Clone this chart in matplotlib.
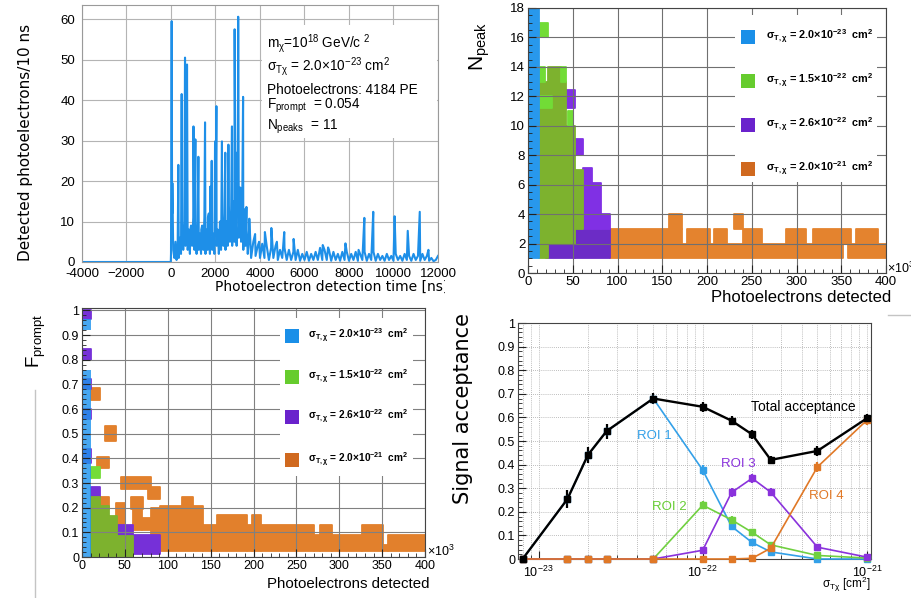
import numpy as np
import matplotlib
matplotlib.use("Agg")
import matplotlib.pyplot as plt
from matplotlib.patches import Rectangle
from matplotlib.lines import Line2D
from matplotlib.transforms import Bbox
from matplotlib.ticker import MultipleLocator, NullFormatter, LogLocator

plt.rcParams['font.family'] = ['Liberation Sans', 'DejaVu Sans']
plt.rcParams['mathtext.fontset'] = 'custom'
plt.rcParams['mathtext.rm'] = 'Liberation Sans'
plt.rcParams['mathtext.it'] = 'Liberation Sans:italic'
plt.rcParams['mathtext.bf'] = 'Liberation Sans:bold'
plt.rcParams['mathtext.default'] = 'regular'

W, H = 912, 598

# ---------------- waveform (top left) ----------------
pre_t = [-4000, -10]
pre_v = [0, 0]
early_t = np.arange(0, 3501, 50)
early_v = [2, 12, 3, 1, 5, 0.5, 4, 1, 6, 2,
           8, 3, 10, 4, 12, 3, 8, 2, 9, 4,
           11, 3, 8, 2, 10, 3, 7, 2, 9, 3,
           11, 2, 8, 3, 12, 2, 9, 3, 7, 2,
           10, 4, 8, 2, 10, 3, 9, 4, 12, 3,
           10, 4, 14, 5, 11, 4, 15, 5, 12, 4,
           16, 6, 13, 5, 14, 3, 13, 4, 8, 2,
           6]
late_t = np.arange(3600, 12001, 100)
late_v = [1, 5, 1.5, 4, 1, 4.5, 1, 4, 0.5, 3.5,
          1, 4, 0.5, 3, 1, 3.5, 0.5, 3, 0.5, 2.5,
          0.5, 3, 0.3, 2, 0.5, 2.5, 0.3, 2, 0.5, 2.5,
          0.5, 3.5, 0.5, 3, 0.5, 3, 0.3, 2.5, 0.5, 2,
          0.3, 2.5, 0.5, 2.5, 0.3, 2, 0.5, 2.5, 0.3, 2,
          0.5, 2.5, 0.3, 2, 0.5, 2.5, 0.3, 2, 0.5, 1.5,
          0.3, 2, 0.5, 1.5, 0.3, 2, 0.5, 1.5, 0.3, 2,
          0.5, 1.5, 0.3, 2, 0.5, 1.5, 0.3, 2, 0.5, 1.5,
          0.3, 1, 0.2, 0.5, 1.5]
spike_t = [30, 60, 330, 480, 630, 720, 870, 1010, 1095, 1230,
           1360, 1530, 1660, 1760, 1830, 1980, 2040, 2170, 2290, 2440,
           2580, 2740, 2860, 2960, 3020, 3110, 3240, 3390, 3520, 3780,
           3960, 4220, 4510, 4760, 5090, 5510, 6820, 7060, 7840, 8430,
           8690, 9090, 10050, 10640, 11180, 11570]
spike_v = [59.5, 19.5, 24, 41.5, 50.5, 48.8, 8, 33.5, 30.3, 26,
           8, 34.5, 11, 18.6, 25, 29.8, 38.5, 4, 29.8, 27,
           29, 33.5, 57.5, 27, 60.6, 18.4, 40.8, 13.6, 10.7, 6.9,
           5, 7.4, 8.4, 5, 7.4, 5.7, 4.2, 3.6, 4.6, 3,
           10.9, 12.4, 11.3, 7.7, 12.4, 3]

time_ticks = [-4000, -2000, 0, 2000, 4000, 6000, 8000, 10000, 12000]
time_tick_labels = ['-4000', '\u22122000', '0', '2000', '4000', '6000', '8000', '10000', '12000']

info_lines = [r"m$_{\chi}$=10$^{18}$ GeV/c $^{2}$",
              r"$\sigma_{T\chi}$ = 2.0$\times$10$^{-23}$ cm$^{2}$",
              "Photoelectrons: 4184 PE",
              r"F$_{prompt}$  = 0.054",
              r"N$_{peaks}$  = 11"]

# ---------------- legend entries ----------------
leg_sigma = ['2.0', '1.5', '2.6', '2.0']
leg_exp = ['-23', '-22', '-22', '-21']

# ---------------- N_peak vs photoelectrons (x10^3): (x_lo, x_hi, y_lo, y_hi) ----------------
np_orange = [(92, 352, 1, 2), (358, 400, 1, 2), (92, 172, 2, 3), (158, 172, 3, 4),
             (178, 203, 2, 3), (208, 222, 2, 3), (230, 240, 3, 4), (240, 262, 2, 3),
             (288, 311, 2, 3), (318, 361, 2, 3), (366, 391, 2, 3)]
np_purple_dense = [(20, 52, 1, 2), (52, 92, 1, 3)]
np_purple = [(43, 52, 11.2, 12.4), (52, 62, 8, 9.1), (62, 72, 3, 7.1), (72, 82, 3, 6.1), (82, 92, 3, 4)]
np_green_dense = [(12, 22, 1, 13), (22, 37, 2, 14), (37, 43, 2, 13), (43, 52, 2, 10), (52, 62, 3, 7)]
np_green = [(12, 22, 16, 17), (12, 19, 13, 14), (37, 43, 13, 14), (12, 27, 11.2, 12), (45, 50, 10, 11)]
np_blue = [(0, 12, 1, 18)]

# ---------------- F_prompt vs photoelectrons (x10^3) ----------------
fp_orange = [(11, 21, 0.635, 0.685), (27, 40, 0.47, 0.53), (17, 31, 0.36, 0.405), (21, 31, 0.195, 0.245),
             (40, 50, 0.12, 0.22), (46, 81, 0.275, 0.325), (77, 91, 0.235, 0.285), (57, 71, 0.195, 0.245),
             (60, 70, 0.11, 0.2), (70, 80, 0.11, 0.16), (80, 91, 0.09, 0.2),
             (91, 141, 0.025, 0.205), (117, 130, 0.2, 0.245), (141, 157, 0.025, 0.13),
             (157, 192, 0.025, 0.17), (192, 198, 0.025, 0.13), (198, 209, 0.025, 0.17),
             (209, 271, 0.025, 0.13), (271, 277, 0.025, 0.09), (277, 291, 0.025, 0.13),
             (291, 326, 0.025, 0.09), (326, 351, 0.025, 0.13), (351, 357, 0.025, 0.05),
             (357, 400, 0.025, 0.09)]
fp_purple = [(0, 11, 0.965, 1.0), (0, 11, 0.8, 0.845), (0, 11, 0.68, 0.72), (0, 11, 0.56, 0.6),
             (0, 11, 0.38, 0.44), (11, 21, 0.24, 0.285), (41, 60, 0.085, 0.13), (60, 91, 0.012, 0.09)]
fp_green_dense = [(11, 21, 0, 0.245), (21, 31, 0, 0.205), (31, 41, 0, 0.165), (41, 60, 0, 0.085)]
fp_green = [(11, 21, 0.32, 0.365)]
fp_blue = [(0, 11, 0, 0.76), (0, 11, 0.92, 0.965)]

# ---------------- signal acceptance ----------------
sigma = [8e-24, 1.5e-23, 2e-23, 2.6e-23, 5e-23, 1e-22, 1.5e-22, 2e-22, 2.6e-22, 5e-22, 1e-21]
acc_total = [0.0, 0.254, 0.441, 0.542, 0.680, 0.645, 0.586, 0.528, 0.420, 0.458, 0.596]
err_total = [0.005, 0.038, 0.035, 0.032, 0.023, 0.021, 0.019, 0.020, 0.018, 0.020, 0.020]
acc_roi1 = [0.0, 0.254, 0.441, 0.542, 0.680, 0.377, 0.138, 0.070, 0.030, 0.0, 0.0]
err_roi1 = [0, 0.01, 0.01, 0.01, 0.01, 0.02, 0.015, 0.012, 0.008, 0.003, 0.003]
acc_roi2 = [0, 0, 0, 0, 0, 0.228, 0.166, 0.113, 0.060, 0.015, 0.004]
err_roi2 = [0, 0, 0, 0, 0.003, 0.018, 0.015, 0.013, 0.010, 0.006, 0.003]
acc_roi3 = [0, 0, 0, 0, 0, 0.037, 0.282, 0.342, 0.283, 0.050, 0.008]
err_roi3 = [0, 0, 0, 0, 0.003, 0.008, 0.018, 0.020, 0.018, 0.008, 0.004]
acc_roi4 = [0, 0, 0, 0, 0, 0, 0, 0.003, 0.046, 0.390, 0.588]
err_roi4 = [0, 0, 0, 0, 0, 0, 0, 0.003, 0.010, 0.020, 0.020]
acc_ticks = [0, 0.1, 0.2, 0.3, 0.4, 0.5, 0.6, 0.7, 0.8, 0.9, 1.0]
acc_tick_labels = ['0', '0.1', '0.2', '0.3', '0.4', '0.5', '0.6', '0.7', '0.8', '0.9', '1']

fig = plt.figure(figsize=(W / 100, H / 100), dpi=100)


def axes_px(left, top, right, bottom):
    return fig.add_axes([left / W, 1 - bottom / H, (right - left) / W, (bottom - top) / H])


def ftext(x, y, s, **kw):
    return fig.text(x / W, 1 - y / H, s, **kw)


def white_box(ax, left, top, right, bottom):
    ax.add_patch(Rectangle((left / W, 1 - bottom / H), (right - left) / W, (bottom - top) / H,
                           transform=fig.transFigure, facecolor='white', edgecolor='none', zorder=3))


def draw_cells(ax, cells, color, alpha=1.0, edge=True):
    x0 = [c[0] for c in cells]
    w = [c[1] - c[0] for c in cells]
    y0 = [c[2] for c in cells]
    h = [c[3] - c[2] for c in cells]
    ax.bar(x0, h, width=w, bottom=y0, align='edge', color=color, alpha=alpha,
           edgecolor=color if edge else 'none', linewidth=1.3 if edge else 0, joinstyle='round')


def draw_legend(ax, box, sq_x, txt_x, rows_y, size):
    white_box(ax, *box)
    colors = ['#1a8fe8', '#66cc2e', '#6a22cc', '#d0691f']
    for y, c, s, e in zip(rows_y, colors, leg_sigma, leg_exp):
        ax.add_patch(Rectangle((sq_x / W, 1 - (y + 7) / H), 14 / W, 14 / H, transform=fig.transFigure,
                               facecolor=c, edgecolor='none', zorder=4))
        ftext(txt_x, y, r"$\sigma_{T,\chi}$ = %s$\times$10$^{\mathbf{%s}}$  cm$^{\mathbf{2}}$" % (s, e),
              fontsize=size, fontweight='bold', va='center', ha='left', zorder=5)


# ---------------- panel 1 ----------------
ax1 = axes_px(82, 5, 438, 262)
order = np.argsort(np.concatenate([pre_t, early_t, spike_t, late_t]), kind='stable')
wave_t = np.concatenate([pre_t, early_t, spike_t, late_t])[order]
wave_v = np.concatenate([pre_v, early_v, spike_v, late_v])[order]
ax1.plot(wave_t, wave_v, color='#1e8fe8', lw=1.5, zorder=2)
ax1.set_xlim(-4000, 12000)
ax1.set_ylim(0, 63.5)
ax1.set_xticks(time_ticks)
ax1.set_xticklabels(time_tick_labels)
ax1.set_yticks([0, 10, 20, 30, 40, 50, 60])
ax1.grid(True, color='#b4b4b4', lw=0.8)
ax1.tick_params(length=0, labelsize=9.5)
ax1.tick_params(axis='y', pad=5)
ax1.tick_params(axis='x', pad=4)
for s in ax1.spines.values():
    s.set_color('#9a9a9a')
white_box(ax1, 262, 25, 437, 138)
for y, line in zip([48, 70.5, 94, 108.5, 129.5], info_lines):
    ftext(267, y, line, fontsize=9.8, va='baseline', ha='left', zorder=5)
ftext(26, 142, "Detected photoelectrons/10 ns", family='DejaVu Sans', fontsize=11,
      rotation=90, ha='center', va='center')
xl = ftext(215, 287, "Photoelectron detection time [ns]", family='DejaVu Sans', fontsize=10,
           ha='left', va='center')
xl.set_clip_box(Bbox.from_extents(0, 0, 445, H))
xl.set_clip_on(True)

# ---------------- panel 2 ----------------
ax2 = axes_px(528, 8, 886, 273)
draw_cells(ax2, np_orange, '#e4832e')
draw_cells(ax2, np_purple_dense, '#6c2cc6')
draw_cells(ax2, np_purple, '#8030e4')
draw_cells(ax2, np_green_dense, '#7db22e')
draw_cells(ax2, np_green, '#72dc36')
draw_cells(ax2, np_blue, '#2898ec')
ax2.set_xlim(0, 400)
ax2.set_ylim(0, 18)
ax2.set_xticks(range(0, 401, 50))
ax2.set_yticks(range(0, 19, 2))
ax2.xaxis.set_minor_locator(MultipleLocator(10))
ax2.yaxis.set_minor_locator(MultipleLocator(0.5))
ax2.grid(True, which='major', color='#707070', lw=0.8)
ax2.tick_params(which='both', direction='in', labelsize=9.5, pad=2, color='#222')
ax2.tick_params(which='major', length=6)
ax2.tick_params(which='minor', length=3)
for s in ax2.spines.values():
    s.set_color('#444')
draw_legend(ax2, (735, 15, 877, 182), 741, 766, [37, 81, 125, 169], 7.8)
ftext(480, 46, r"N$_{peak}$", fontsize=15, rotation=90, ha='center', va='center')
ftext(891, 297, "Photoelectrons detected", fontsize=12, ha='right', va='center')
ftext(887, 268, r"$\times$10$^{3}$", fontsize=9, ha='left', va='center')

# ---------------- panel 3 ----------------
ax3 = axes_px(82, 308, 425, 557)
draw_cells(ax3, fp_orange, '#e2802c')
draw_cells(ax3, fp_purple, '#7630d8')
draw_cells(ax3, fp_green_dense, '#7db22e')
draw_cells(ax3, fp_green, '#74dc38')
draw_cells(ax3, fp_blue, '#1f94ee', alpha=0.82, edge=False)
ax3.set_xlim(0, 400)
ax3.set_ylim(0, 1.01)
ax3.set_xticks(range(0, 401, 50))
ax3.set_yticks(acc_ticks)
ax3.set_yticklabels(acc_tick_labels)
ax3.xaxis.set_minor_locator(MultipleLocator(10))
ax3.yaxis.set_minor_locator(MultipleLocator(0.02))
ax3.grid(True, which='major', color='#808080', lw=0.8)
ax3.tick_params(which='both', direction='in', labelsize=9, pad=2, color='#222')
ax3.tick_params(which='major', length=6)
ax3.tick_params(which='minor', length=3)
for s in ax3.spines.values():
    s.set_color('#444')
draw_legend(ax3, (280, 318, 413, 476), 285, 308, [336, 377, 417, 460], 7.3)
ftext(36, 341, r"F$_{prompt}$", fontsize=13.5, rotation=90, ha='center', va='center')
ftext(430, 584, "Photoelectrons detected", fontsize=10.8, ha='right', va='center')
ftext(427, 551, r"$\times$10$^{3}$", fontsize=9, ha='left', va='center')

# ---------------- panel 4 ----------------
ax4 = axes_px(518, 323, 871, 559)
series = [(acc_roi1, err_roi1, '#33a0e8', 1.2), (acc_roi2, err_roi2, '#70d040', 1.2),
          (acc_roi3, err_roi3, '#8a32dc', 1.2), (acc_roi4, err_roi4, '#e07826', 1.2),
          (acc_total, err_total, 'black', 1.7)]
for acc, err, col, lw in series:
    ax4.errorbar(sigma, acc, yerr=err, fmt='-s', color=col, ms=4, lw=lw,
                 elinewidth=1.6, capsize=0, clip_on=False, zorder=3)
ax4.set_xscale('log')
ax4.set_xlim(7.5e-24, 1.06e-21)
ax4.set_ylim(0, 1)
ax4.set_yticks(acc_ticks)
ax4.set_yticklabels(acc_tick_labels)
ax4.yaxis.set_minor_locator(MultipleLocator(0.02))
ax4.xaxis.set_minor_locator(LogLocator(base=10, subs=np.arange(2, 10)))
ax4.xaxis.set_minor_formatter(NullFormatter())
ax4.grid(True, which='both', axis='x', ls=(0, (1, 1.5)), color='#a8a8a8', lw=0.6)
ax4.grid(True, which='major', axis='y', ls=(0, (1, 1.5)), color='#a8a8a8', lw=0.6)
ax4.tick_params(which='both', direction='in', labelsize=9, pad=2, color='#222')
ax4.tick_params(which='major', length=6)
ax4.tick_params(which='minor', length=3)
ax4.tick_params(axis='x', pad=4)
for s in ax4.spines.values():
    s.set_color('#444')
ftext(751, 407.5, "Total acceptance", fontsize=10, ha='left', va='center')
ftext(654, 436, "ROI 1", fontsize=9.5, color='#33a0e8', ha='center', va='center')
ftext(669, 507, "ROI 2", fontsize=9.5, color='#66cc33', ha='center', va='center')
ftext(738, 464, "ROI 3", fontsize=9.5, color='#8a32dc', ha='center', va='center')
ftext(826, 496, "ROI 4", fontsize=9.5, color='#e07826', ha='center', va='center')
ftext(871, 584, r"$\sigma_{T\chi}$ [cm$^{2}$]", fontsize=8.5, ha='right', va='center')
ftext(463, 408, "Signal acceptance", family='DejaVu Sans', fontsize=15, rotation=90,
      ha='center', va='center')

# stray frame lines from the composed figure
fig.add_artist(Line2D([35 / W, 35 / W], [1 - 390 / H, 0], color='#c4c4c4', lw=1))
fig.add_artist(Line2D([888 / W, 1], [1 - 315 / H, 1 - 315 / H], color='#c4c4c4', lw=1))

fig.savefig('out.png', dpi=100)
